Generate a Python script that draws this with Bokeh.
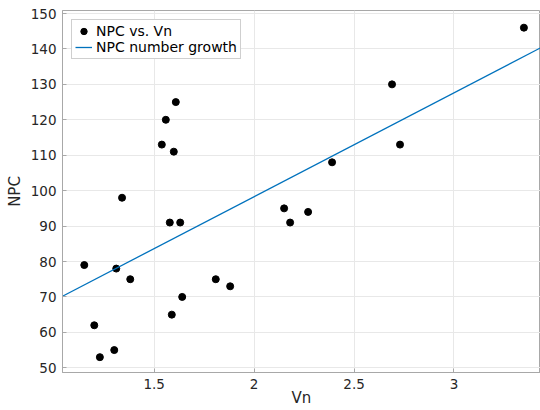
from bokeh.plotting import figure
from bokeh.models import Range1d, Legend, LegendItem, FixedTicker
from bokeh.embed import file_html
from bokeh.resources import INLINE

# data
vn = [1.608, 1.558, 1.538, 1.598, 1.339, 3.35, 2.69, 2.73, 2.39,
      1.578, 1.63, 1.15, 1.31, 1.38, 1.20, 1.228, 1.30, 1.588, 1.64,
      1.808, 1.88, 2.15, 2.27, 2.18]
npc = [125, 120, 113, 111, 98, 146, 130, 113, 108,
       91, 91, 79, 78, 75, 62, 53, 55, 65, 70,
       75, 73, 95, 94, 91]
fit_x = [1.041, 3.433]
fit_y = [70.2, 140.3]
x_ticks = [1.5, 2, 2.5, 3]
y_ticks = [50, 60, 70, 80, 90, 100, 110, 120, 130, 140, 150]

FONT = "DejaVu Sans"
TXT = "#262626"
AX = "#a8a8a8"

p = figure(width=540, height=410, output_backend="svg", toolbar_location=None,
           x_range=Range1d(1.041, 3.433), y_range=Range1d(48.67, 150.85),
           min_border_left=62, min_border_right=0, min_border_top=10,
           min_border_bottom=38)
p.background_fill_color = "white"
p.border_fill_color = "white"
p.outline_line_color = AX
p.outline_line_width = 1

for ax, ticks in ((p.xaxis[0], x_ticks), (p.yaxis[0], y_ticks)):
    ax.ticker = FixedTicker(ticks=ticks)
    ax.major_tick_in = 4
    ax.major_tick_out = 0
    ax.minor_tick_line_color = None
    ax.axis_line_color = AX
    ax.major_tick_line_color = AX
    ax.major_label_text_font = FONT
    ax.major_label_text_font_size = "13.5px"
    ax.major_label_text_color = TXT
    ax.axis_label_text_font = FONT
    ax.axis_label_text_font_size = "15px"
    ax.axis_label_text_font_style = "normal"
    ax.axis_label_text_color = TXT

p.xaxis.axis_label = "Vn"
p.xaxis.major_label_standoff = 6
p.xaxis.axis_label_standoff = -3
p.yaxis.axis_label = "NPC"
p.yaxis.major_label_standoff = 6
p.yaxis.axis_label_standoff = 4

p.xgrid.ticker = FixedTicker(ticks=x_ticks)
p.ygrid.ticker = FixedTicker(ticks=y_ticks)
p.xgrid.grid_line_color = "#e8e8e8"
p.ygrid.grid_line_color = "#e8e8e8"

sc = p.scatter(vn, npc, size=7, color="black")
ln = p.line(fit_x, fit_y, line_color="#0072BD", line_width=1.3)

legend = Legend(items=[LegendItem(label="NPC vs. Vn", renderers=[sc]),
                       LegendItem(label="NPC number growth", renderers=[ln])],
                location="top_left")
legend.margin = 9
legend.padding = 3
legend.spacing = 0
legend.label_height = 16
legend.glyph_height = 16
legend.glyph_width = 17
legend.label_standoff = 4
legend.label_text_font = FONT
legend.label_text_font_size = "14px"
legend.label_text_color = "black"
legend.border_line_color = "#a0a0a0"
legend.border_line_width = 1
legend.background_fill_color = "white"
legend.background_fill_alpha = 1
p.add_layout(legend, "center")

open("out.html", "w").write(file_html(p, INLINE))
